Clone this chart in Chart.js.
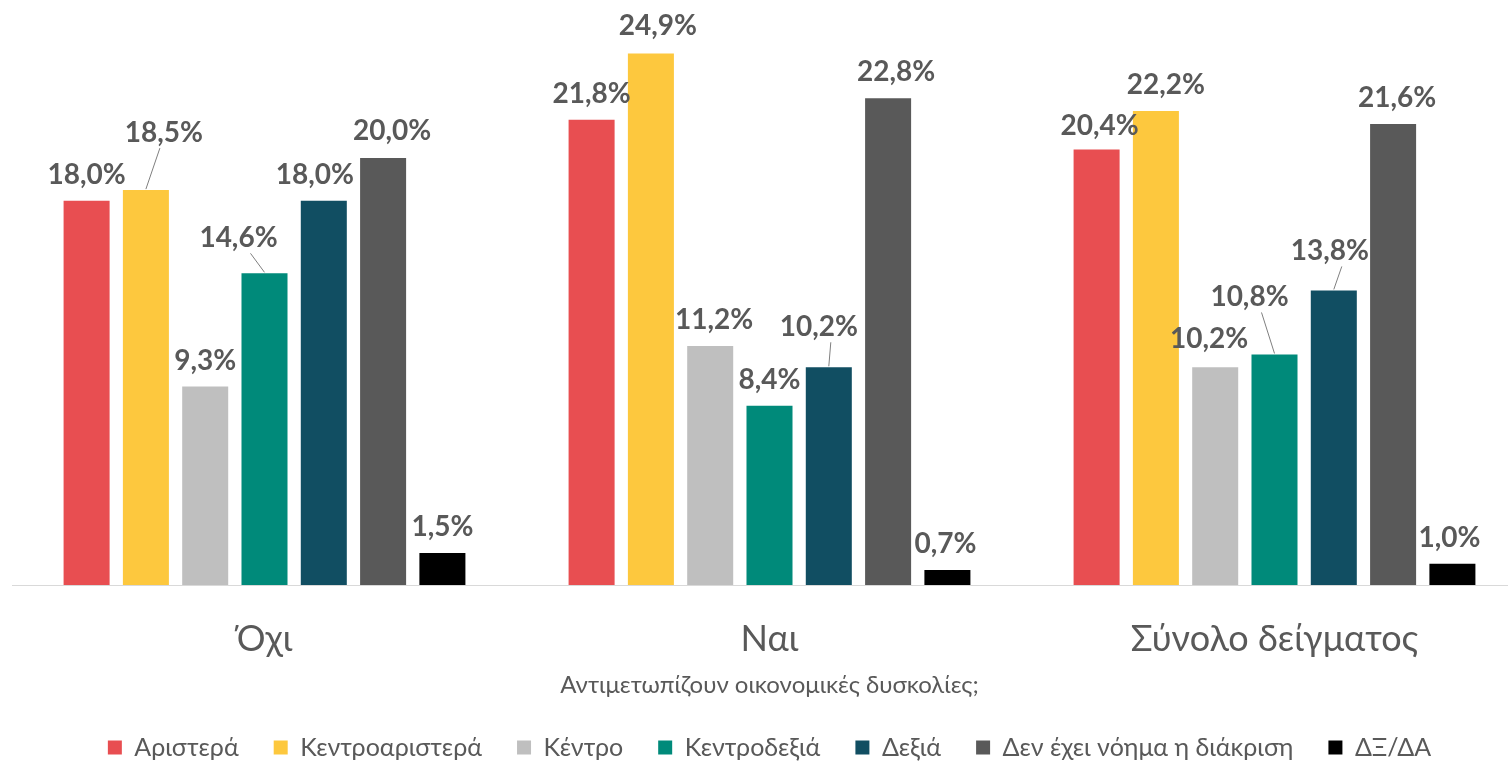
<!DOCTYPE html>
<html>
<head>
<meta charset="utf-8">
<script src="https://cdn.jsdelivr.net/npm/chart.js@4"></script>
<style>
  html, body { margin: 0; padding: 0; background: #fff; overflow: hidden; }
  #wrap { width: 1545px; height: 770px; }
</style>
</head>
<body>
<div id="wrap"><canvas id="chart"></canvas></div>
<script>
// categories on the x axis
const categories = ['Όχι', 'Ναι', 'Σύνολο δείγματος'];
const axisTitle = 'Αντιμετωπίζουν οικονομικές δυσκολίες;';

// series (one per political self-placement)
const seriesNames = ['Αριστερά', 'Κεντροαριστερά', 'Κέντρο', 'Κεντροδεξιά', 'Δεξιά', 'Δεν έχει νόημα η διάκριση', 'ΔΞ/ΔΑ'];
const aristera = [18.0, 21.8, 20.4];
const kentroaristera = [18.5, 24.9, 22.2];
const kentro = [9.3, 11.2, 10.2];
const kentrodexia = [14.6, 8.4, 10.8];
const dexia = [18.0, 10.2, 13.8];
const denExeiNoima = [20.0, 22.8, 21.6];
const dxda = [1.5, 0.7, 1.0];
const seriesValues = [aristera, kentroaristera, kentro, kentrodexia, dexia, denExeiNoima, dxda];

const colors = ['#E84E51', '#FDC83E', '#BFBFBF', '#008A7A', '#114E62', '#595959', '#000000'];

// label nudges [dx, dy] per series and category (px), leader line when moved up a lot
const labelNudge = [
  [[0, 0], [0, 0], [3, 2]],
  [[18, -31], [7, -2], [10, 0]],
  [[0, 0], [4, 0], [-6, -2]],
  [[-26, -9], [0, 0], [-25, -31]],
  [[-9, 0], [-10, -14], [-4, -13]],
  [[9, -1], [8, 0], [4, 0]],
  [[0, 0], [-2, 0], [-3, 0]]
];

const valueLabels = {
  id: 'valueLabels',
  afterDatasetsDraw(chart) {
    const ctx = chart.ctx;
    ctx.save();
    ctx.font = 'bold 28px Lato';
    ctx.textAlign = 'center';
    ctx.textBaseline = 'middle';
    chart.data.datasets.forEach((ds, i) => {
      const meta = chart.getDatasetMeta(i);
      meta.data.forEach((bar, j) => {
        const [dx, dy] = labelNudge[i][j];
        const lx = bar.x + dx;
        const ly = bar.y - 26 + dy;
        if (dy < -8) {
          ctx.strokeStyle = '#7f7f7f';
          ctx.lineWidth = 1;
          ctx.beginPath();
          ctx.moveTo(bar.x, bar.y - 1);
          ctx.lineTo(lx + (bar.x > lx ? 12 : -4), ly + 15);
          ctx.stroke();
        }
        ctx.fillStyle = '#595959';
        ctx.fillText(ds.data[j].toFixed(1).replace('.', ',') + '%', lx, ly);
      });
    });
    ctx.restore();
  }
};

new Chart(document.getElementById('chart'), {
  type: 'bar',
  data: {
    labels: categories,
    datasets: seriesNames.map((name, i) => ({
      label: name,
      data: seriesValues[i],
      backgroundColor: colors[i],
      categoryPercentage: 0.822,
      barPercentage: 0.776
    }))
  },
  options: {
    responsive: true,
    maintainAspectRatio: false,
    animation: false,
    layout: { padding: { left: 12, right: 18, top: 30, bottom: 0 } },
    scales: {
      y: { display: false, min: 0, max: 26 },
      x: {
        afterFit: (scale) => { scale.height = 115; },
        grid: { display: false, drawTicks: false },
        border: { display: true, color: '#d9d9d9', width: 1 },
        ticks: { font: { family: 'Lato', size: 36 }, color: '#595959', padding: 33 },
        title: {
          display: true,
          text: axisTitle,
          font: { family: 'Lato', size: 24 },
          color: '#595959',
          padding: { top: 0, bottom: 0 }
        }
      }
    },
    plugins: {
      legend: {
        position: 'bottom',
        labels: {
          boxWidth: 14,
          boxHeight: 14,
          padding: 35,
          font: { family: 'Lato', size: 25 },
          color: '#595959'
        }
      },
      tooltip: { enabled: false }
    }
  },
  plugins: [valueLabels]
});
</script>
</body>
</html>
